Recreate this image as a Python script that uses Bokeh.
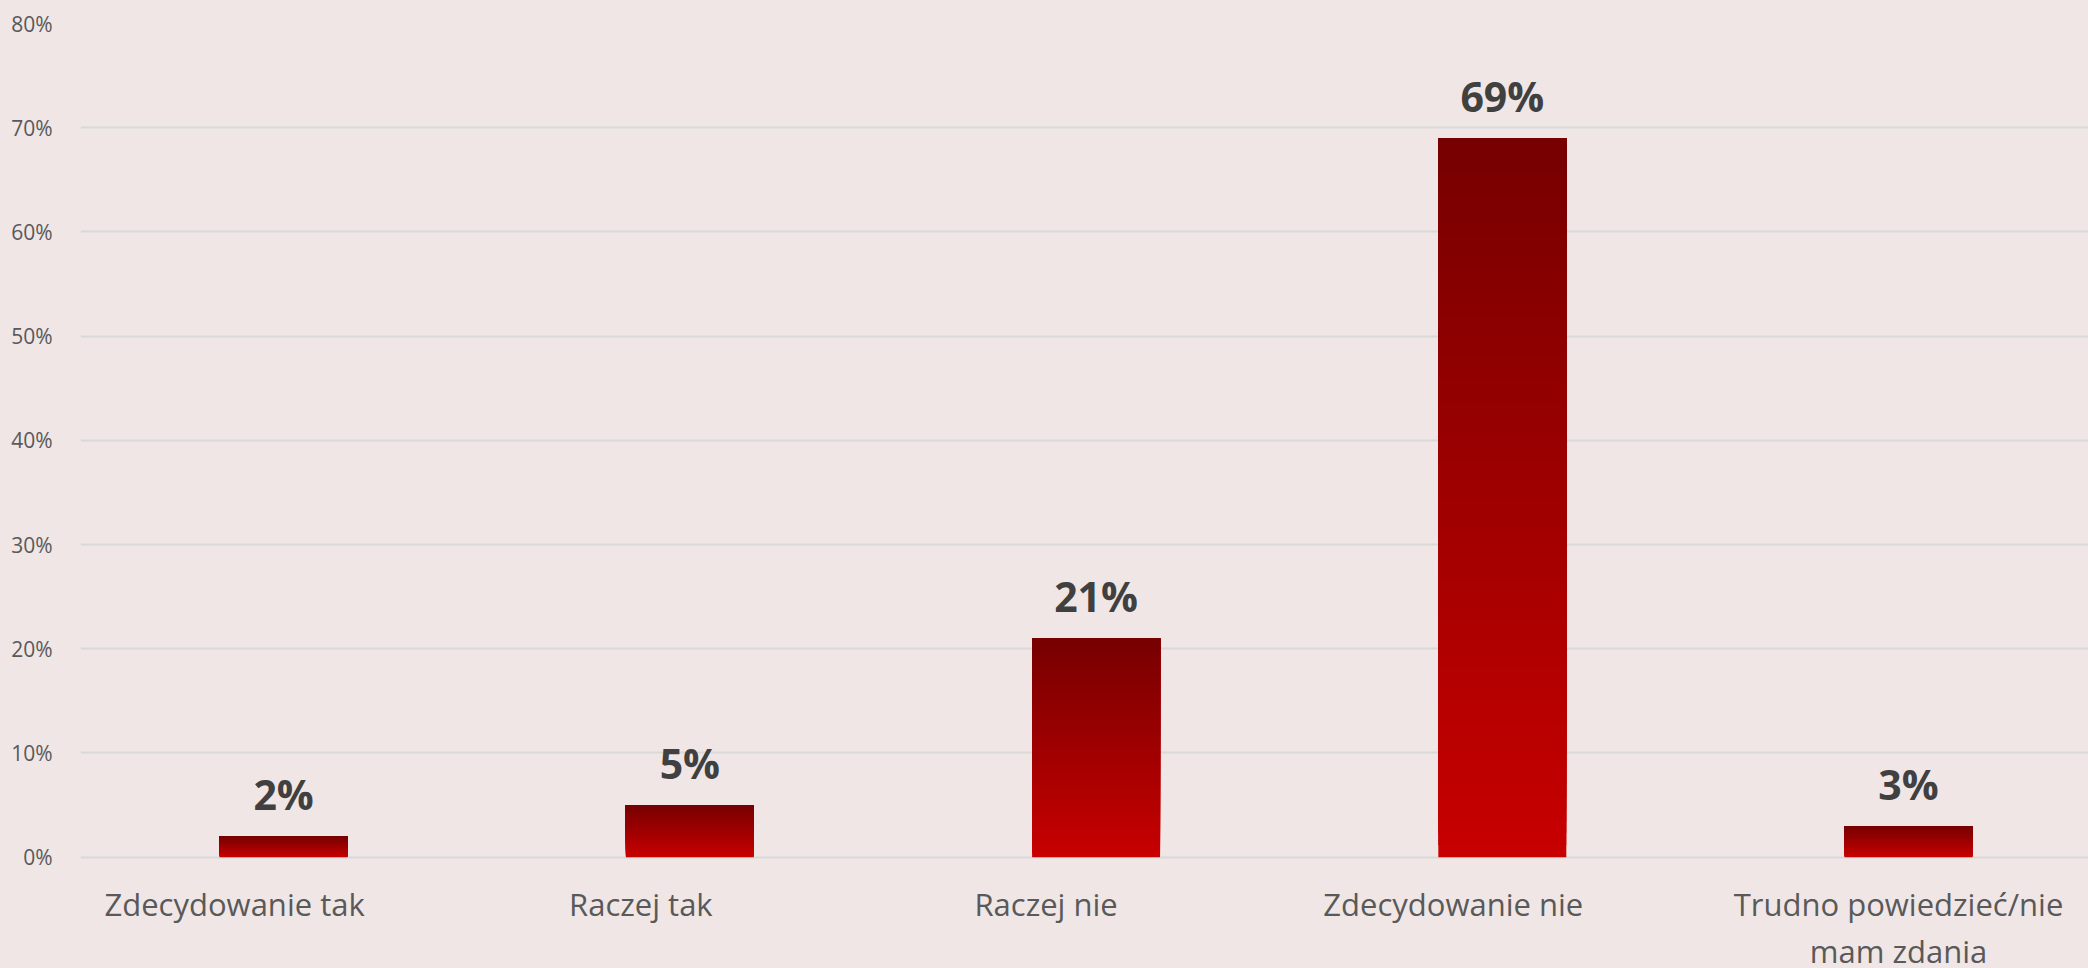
import numpy as np
from bokeh.plotting import figure
from bokeh.models import FixedTicker, NumeralTickFormatter
from bokeh.core.properties import value
from bokeh.embed import file_html
from bokeh.resources import INLINE

# ---- data ----
categories = ["Zdecydowanie tak", "Raczej tak", "Raczej nie", "Zdecydowanie nie",
              "Trudno powiedzieć/nie\nmam zdania"]
shares = [0.02, 0.05, 0.21, 0.69, 0.03]
share_labels = ["2%", "5%", "21%", "69%", "3%"]
y_ticks = [0.0, 0.1, 0.2, 0.3, 0.4, 0.5, 0.6, 0.7, 0.8]

# ---- style ----
label_shift_px = [-49, -49, -50, -49, -10]
BG = "#f0e6e6"
FONT = "Open Sans"

xpos = list(range(len(categories)))

p = figure(width=2088, height=968, output_backend="svg", toolbar_location=None,
           x_range=(-0.5, 4.443), y_range=(-0.1068, 0.8),
           x_axis_location=None, min_border_left=80, min_border_right=0,
           min_border_top=23, min_border_bottom=0)
p.background_fill_color = BG
p.border_fill_color = BG
p.outline_line_color = None

# y axis
p.yaxis.ticker = FixedTicker(ticks=y_ticks)
p.yaxis.formatter = NumeralTickFormatter(format="0%")
p.yaxis.axis_line_color = None
p.yaxis.major_tick_line_color = None
p.yaxis.minor_tick_line_color = None
p.yaxis.major_label_standoff = 22
p.yaxis.major_label_text_font = FONT
p.yaxis.major_label_text_font_size = "21px"
p.yaxis.major_label_text_color = "#595959"

p.xgrid.visible = False
p.ygrid.ticker = FixedTicker(ticks=y_ticks)
p.ygrid.grid_line_color = "#d9d9d9"
p.ygrid.grid_line_width = 2

# gradient bars: overlapping layers, each from a fraction of the bar up to its top
N = 60
top_rgb = np.array([0x76, 0x00, 0x00], dtype=float)
bot_rgb = np.array([0xc8, 0x00, 0x00], dtype=float)
sx, sb, st, sc = [], [], [], []
for k in range(N):
    frac = (k + 0.5) / N
    c = bot_rgb + (top_rgb - bot_rgb) * frac
    col = "#%02x%02x%02x" % tuple(int(round(t)) for t in c)
    for i, v in zip(xpos, shares):
        sx.append(i)
        sb.append(v * k / N)
        st.append(v)
        sc.append(col)
p.vbar(x=sx, bottom=sb, top=st, width=0.315, fill_color=sc, line_color=None)

# value labels
p.text(x=xpos, y=shares, text=share_labels, text_align="center", text_baseline="alphabetic",
       y_offset=-42, text_font=value(FONT), text_font_style="bold", text_font_size="41px",
       text_color="#404040")

# category labels
p.text(x=xpos, y=[0] * len(xpos), text=categories, x_offset=label_shift_px, y_offset=26,
       text_align="center", text_baseline="top", text_font=value(FONT),
       text_font_size="31px", text_color="#595959", text_line_height=1.12)

template = """{% block preamble %}<style>html, body { background-color: #f0e6e6; }</style>{% endblock %}"""
open("out.html", "w").write(file_html(p, INLINE, template=template))
